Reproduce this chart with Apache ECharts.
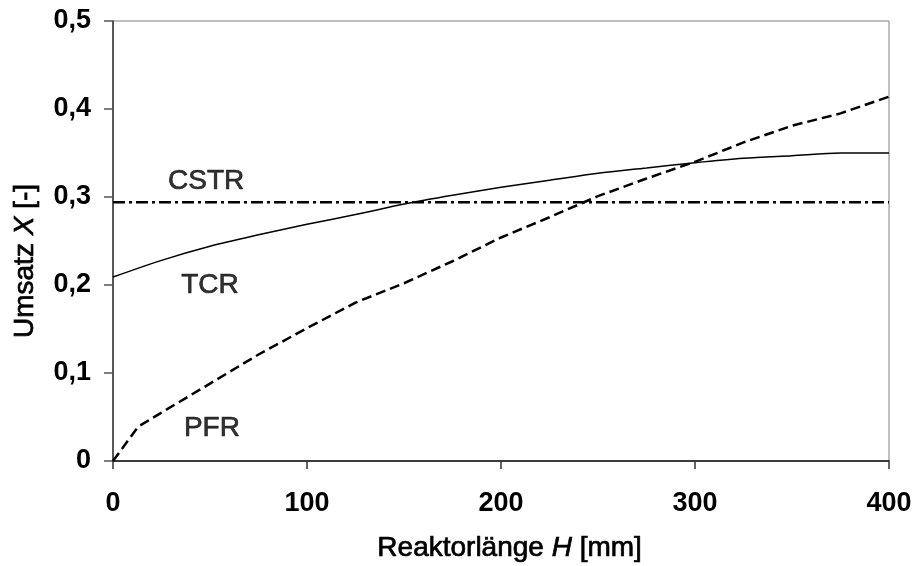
<!DOCTYPE html>
<html>
<head>
<meta charset="utf-8">
<script src="https://cdn.jsdelivr.net/npm/echarts@6/dist/echarts.min.js"></script>
<style>html,body{margin:0;padding:0;background:#fff}#c{width:914px;height:566px}</style>
</head>
<body>
<div id="c"></div>
<script>
// Data
const xTicks = [0, 100, 200, 300, 400];
const yTicks = [0, 0.1, 0.2, 0.3, 0.4, 0.5];
const pfrH = [0, 13, 25, 50, 75, 100, 125, 150, 175, 200, 225, 250, 275, 300, 325, 350, 375, 400];
const pfrX = [0, 0.039, 0.055, 0.088, 0.121, 0.151, 0.180, 0.202, 0.227, 0.254, 0.277, 0.301, 0.321, 0.340, 0.362, 0.381, 0.395, 0.414];
const tcrH = [0, 25, 50, 75, 100, 125, 150, 175, 200, 225, 250, 275, 300, 325, 350, 375, 400];
const tcrX = [0.209, 0.228, 0.244, 0.257, 0.269, 0.280, 0.292, 0.302, 0.311, 0.319, 0.327, 0.333, 0.339, 0.344, 0.347, 0.350, 0.350];
const cstrH = [0, 400];
const cstrX = [0.294, 0.294];
const labelNames = ['CSTR', 'TCR', 'PFR'];
const labelH = [48, 50, 51];
const labelX = [0.318, 0.200, 0.037];

const zip = (a, b) => a.map((v, i) => [v, b[i]]);
const font = 'Liberation Sans, Arial, sans-serif';
const heavy = { stroke: '#000', lineWidth: 0.7 };
const chart = echarts.init(document.getElementById('c'));
chart.setOption({
  animation: false,
  backgroundColor: '#fff',
  grid: { left: 113, right: 25, top: 21, bottom: 105, show: true, borderColor: '#808080', borderWidth: 1, outerBoundsMode: 'none' },
  xAxis: {
    type: 'value', min: xTicks[0], max: xTicks[xTicks.length - 1], interval: 100,
    axisLine: { lineStyle: { color: '#111', width: 1.5 } },
    axisTick: { inside: false, length: 8, lineStyle: { color: '#333', width: 1.5 } },
    splitLine: { show: false },
    axisLabel: { margin: 29, color: '#000', fontFamily: font, fontSize: 27, fontWeight: 'bold' }
  },
  yAxis: {
    type: 'value', min: yTicks[0], max: yTicks[yTicks.length - 1], interval: 0.1,
    axisLine: { show: true, lineStyle: { color: '#333', width: 1.5 } },
    axisTick: { show: true, inside: false, length: 9, lineStyle: { color: '#555', width: 1.5 } },
    splitLine: { show: false },
    axisLabel: { margin: 22, color: '#000', fontFamily: font, fontSize: 27, fontWeight: 'bold',
      formatter: v => (Math.round(v * 10) / 10).toString().replace('.', ',') }
  },
  graphic: [
    { type: 'text', left: 377, top: 534, style: { text: '{a|Reaktorlänge }{i|H}{a| [mm]}', rich: {
      a: Object.assign({ fontFamily: font, fontSize: 28, fill: '#000' }, heavy),
      i: Object.assign({ fontFamily: font, fontSize: 28, fontStyle: 'italic', fill: '#000' }, heavy) } } },
    { type: 'text', x: 25, y: 261, rotation: Math.PI / 2, style: { text: '{a|Umsatz }{i|X}{a| [-]}', align: 'center', verticalAlign: 'middle', rich: {
      a: Object.assign({ fontFamily: font, fontSize: 28, fill: '#000' }, heavy),
      i: Object.assign({ fontFamily: font, fontSize: 28, fontStyle: 'italic', fill: '#000' }, heavy) } } }
  ],
  series: [
    { name: 'CSTR', type: 'line', data: zip(cstrH, cstrX), symbol: 'none',
      lineStyle: { color: '#000', width: 2.5, type: [12, 4, 3, 4] } },
    { name: 'TCR', type: 'line', data: zip(tcrH, tcrX), symbol: 'none', smooth: 0.3,
      lineStyle: { color: '#000', width: 1.5 } },
    { name: 'PFR', type: 'line', data: zip(pfrH, pfrX), symbol: 'none',
      lineStyle: { color: '#000', width: 2.5, type: [10, 5] } },
    { name: 'labels', type: 'scatter', symbolSize: 0, silent: true,
      data: labelNames.map((n, i) => ({ value: [labelH[i], labelX[i]], name: n })),
      label: { show: true, position: 'inside', formatter: p => p.name, color: '#000',
        fontFamily: font, fontSize: 28, textBorderColor: '#000', textBorderWidth: 0.7 } }
  ]
});
</script>
</body>
</html>
